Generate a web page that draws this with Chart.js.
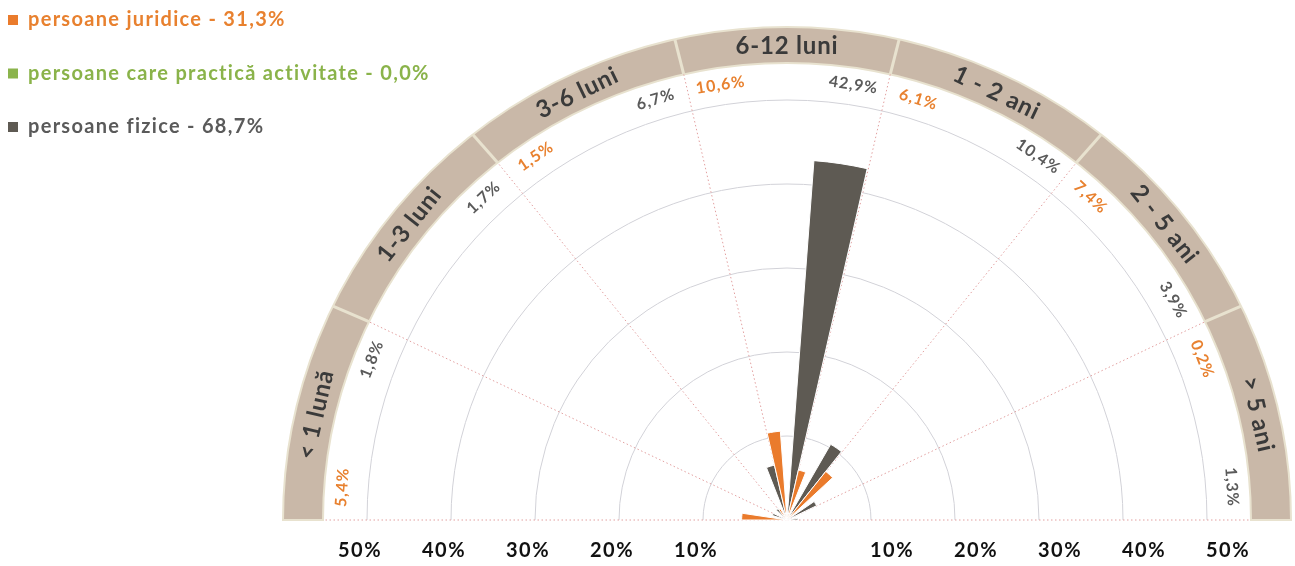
<!DOCTYPE html>
<html>
<head>
<meta charset="utf-8">
<script src="https://cdn.jsdelivr.net/npm/chart.js@4/dist/chart.umd.min.js"></script>
<style>
  html, body { margin: 0; padding: 0; background: #ffffff; }
  #wrap { width: 1295px; height: 566px; position: relative; }
</style>
</head>
<body>
<div id="wrap"><canvas id="chart" width="1295" height="566"></canvas></div>
<script>
// ---------- data ----------
const categories = ['< 1 lună', '1-3 luni', '3-6 luni', '6-12 luni', '1 - 2 ani', '2 - 5 ani', '> 5 ani'];
const seriesNames = ['persoane juridice', 'persoane care practică activitate', 'persoane fizice'];
const seriesTotals = [31.3, 0.0, 68.7];
const juridice   = [5.4, 0.1, 1.5, 10.6, 6.1, 7.4, 0.2];
const activitate = [0.0, 0.0, 0.0, 0.0, 0.0, 0.0, 0.0];
const fizice     = [1.8, 1.7, 6.7, 42.9, 10.4, 3.9, 1.3];
const axisTicks  = [10, 20, 30, 40, 50];

// ---------- styles ----------
const barColors   = ['#EA7B2C', '#8BB44C', '#5E5A53'];
const textColors  = ['#E8812F', '#8AB34A', '#5A5A5A'];
const FONT = 'Lato, "Open Sans", "DejaVu Sans", sans-serif';
const CX = 787, CY = 520, PX_PER_PCT = 8.4;
const BAND_IN = [464, 457], BAND_OUT = [504, 493], VALUE_R = [446, 440];

const seriesData = [juridice, activitate, fizice];
const fmt = v => v.toFixed(1).replace('.', ',') + '%';

const values = [], colors = [], labels = [];
categories.forEach((c, i) => {
  seriesData.forEach((arr, j) => {
    values.push(arr[i]);
    colors.push(barColors[j]);
    labels.push(c + ' – ' + seriesNames[j]);
  });
});

const ept = (cx, cy, rr, a) => [cx + Math.cos(a) * rr[0], cy + Math.sin(a) * rr[1]];

const geometryPlugin = {
  id: 'geometry',
  afterLayout(chart) {
    const r = chart.scales.r;
    r.xCenter = CX;
    r.yCenter = CY;
    r.drawingArea = PX_PER_PCT * (r.max - r.min);
  }
};

const decorPlugin = {
  id: 'decor',
  beforeDatasetsDraw(chart) {
    const ctx = chart.ctx, r = chart.scales.r;
    const cx = r.xCenter, cy = r.yCenter;
    const n = categories.length, step = Math.PI / n;
    ctx.save();
    // outer band
    ctx.beginPath();
    ctx.ellipse(cx, cy, BAND_OUT[0], BAND_OUT[1], 0, Math.PI, 2 * Math.PI);
    ctx.ellipse(cx, cy, BAND_IN[0], BAND_IN[1], 0, 2 * Math.PI, Math.PI, true);
    ctx.closePath();
    ctx.fillStyle = '#C9B8A8';
    ctx.fill();
    ctx.lineWidth = 2;
    ctx.strokeStyle = '#E8E2CF';
    ctx.stroke();
    ctx.lineWidth = 3;
    for (let k = 1; k < n; k++) {
      const a = Math.PI + k * step;
      const p1 = ept(cx, cy, BAND_IN, a), p2 = ept(cx, cy, BAND_OUT, a);
      ctx.beginPath();
      ctx.moveTo(p1[0], p1[1]);
      ctx.lineTo(p2[0], p2[1]);
      ctx.stroke();
    }
    // rings
    ctx.lineWidth = 1;
    ctx.strokeStyle = '#D2D2D8';
    axisTicks.forEach(t => {
      const d = r.getDistanceFromCenterForValue(t);
      ctx.beginPath();
      ctx.arc(cx, cy, d, Math.PI, 2 * Math.PI);
      ctx.stroke();
    });
    // dotted sector dividers
    ctx.setLineDash([1.5, 2.5]);
    ctx.strokeStyle = '#E2A0A0';
    for (let k = 0; k <= n; k++) {
      const a = Math.PI + k * step;
      const p = ept(cx, cy, BAND_IN, a);
      ctx.beginPath();
      ctx.moveTo(cx, cy);
      ctx.lineTo(p[0], p[1]);
      ctx.stroke();
    }
    ctx.restore();
  },
  afterDatasetsDraw(chart) {
    const ctx = chart.ctx, r = chart.scales.r;
    const cx = r.xCenter, cy = r.yCenter;
    const n = categories.length, step = Math.PI / n;
    const meta = chart.getDatasetMeta(0);
    ctx.save();
    ctx.textAlign = 'center';
    ctx.textBaseline = 'middle';
    // value labels
    ctx.font = 'bold 16px ' + FONT;
    ctx.letterSpacing = '1px';
    meta.data.forEach((arc, idx) => {
      const v = values[idx];
      if (v < 0.15) return;
      const a = (arc.startAngle + arc.endAngle) / 2;
      const p = ept(cx, cy, VALUE_R, a);
      ctx.save();
      ctx.translate(p[0], p[1]);
      ctx.rotate(a + Math.PI / 2);
      ctx.fillStyle = textColors[idx % 3];
      ctx.fillText(fmt(v), 0, 0);
      ctx.restore();
    });
    // category labels on the band
    ctx.font = 'bold 24px ' + FONT;
    ctx.letterSpacing = '0.8px';
    ctx.fillStyle = '#3A3A3A';
    const bandR = [(BAND_IN[0] + BAND_OUT[0]) / 2, (BAND_IN[1] + BAND_OUT[1]) / 2];
    categories.forEach((c, i) => {
      const a = Math.PI + (i + 0.5) * step;
      const p = ept(cx, cy, bandR, a);
      ctx.save();
      ctx.translate(p[0], p[1]);
      ctx.rotate(a + Math.PI / 2);
      ctx.fillText(c, 0, 1);
      ctx.restore();
    });
    // axis tick labels along the baseline
    ctx.font = 'bold 20px ' + FONT;
    ctx.letterSpacing = '1.5px';
    ctx.fillStyle = '#111111';
    axisTicks.forEach(t => {
      const d = r.getDistanceFromCenterForValue(t);
      ctx.fillText(t + '%', cx - d - 7, cy + 31);
      ctx.fillText(t + '%', cx + d + 21, cy + 31);
    });
    // legend
    ctx.textAlign = 'left';
    ctx.font = 'bold 20px ' + FONT;
    ctx.letterSpacing = '1.3px';
    seriesNames.forEach((s, j) => {
      const y = 20 + j * 53.5;
      ctx.fillStyle = barColors[j];
      ctx.fillRect(8, y - 5, 10, 10);
      ctx.fillStyle = textColors[j];
      ctx.fillText(s + ' - ' + fmt(seriesTotals[j]), 28, y);
    });
    ctx.restore();
  }
};

new Chart(document.getElementById('chart'), {
  type: 'polarArea',
  data: {
    labels: labels,
    datasets: [{
      data: values,
      backgroundColor: colors,
      borderColor: '#ffffff',
      borderWidth: 1,
      angle: 180 / values.length
    }]
  },
  options: {
    responsive: false,
    animation: false,
    clip: false,
    layout: { padding: 0 },
    scales: {
      r: {
        display: false,
        min: 0,
        max: 50,
        startAngle: -90
      }
    },
    plugins: {
      legend: { display: false },
      tooltip: { enabled: false }
    }
  },
  plugins: [geometryPlugin, decorPlugin]
});
</script>
</body>
</html>
